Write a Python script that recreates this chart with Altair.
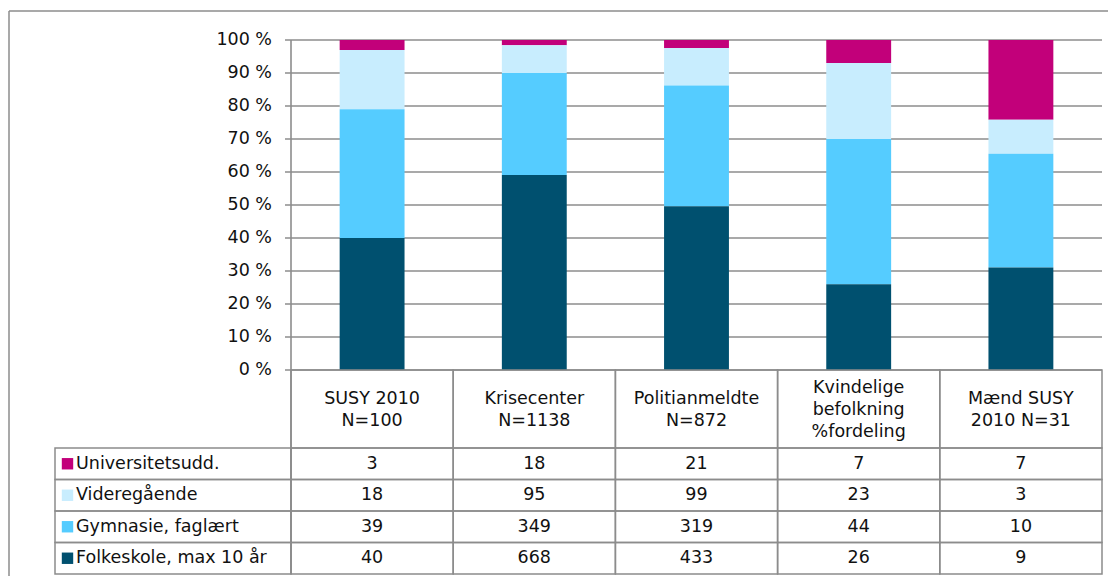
import altair as alt
import pandas as pd

# ---- data ----
categories = ["SUSY 2010\nN=100", "Krisecenter\nN=1138", "Politianmeldte\nN=872",
              "Kvindelige\nbefolkning\n%fordeling", "Mænd SUSY\n2010 N=31"]
series = ["Universitetsudd.", "Videregående", "Gymnasie, faglært", "Folkeskole, max 10 år"]
universitet = [3, 18, 21, 7, 7]
videregaaende = [18, 95, 99, 23, 3]
gymnasie = [39, 349, 319, 44, 10]
folkeskole = [40, 668, 433, 26, 9]
colors = ["#C2007A", "#C8EDFE", "#55CCFF", "#00506F"]
y_ticks = [0, 10, 20, 30, 40, 50, 60, 70, 80, 90, 100]

# ---- layout ----
W, H = 1100, 568
FONT = "DejaVu Sans"
FS = 17.5
GRAY = "#8c8c8c"
TXT = "#111111"
X0, X1 = 283, 1094          # plot / table data columns
Y_TOP, Y_ZERO = 32, 362     # 100 % and 0 %
Y_HEAD = 440                # bottom of header row
Y_BOT = 566                 # bottom of table
LEG_X = 47                  # left edge of legend column
LH = 22                     # header line height

rows = []
for s, vals in zip(series, [universitet, videregaaende, gymnasie, folkeskole]):
    for c, v in zip(categories, vals):
        rows.append({"cat": c, "series": s, "value": v,
                     "order": len(series) - 1 - series.index(s)})
df = pd.DataFrame(rows)
ticks_df = pd.DataFrame({"frac": [t / 100 for t in y_ticks],
                         "label": [f"{t} %" for t in y_ticks]})
cat_df = pd.DataFrame({"cat": categories,
                       "nlines": [c.count("\n") + 1 for c in categories]})
ser_df = pd.DataFrame({"series": series})
one = pd.DataFrame({"a": [0]})

xscale = alt.Scale(domain=categories, range=[X0, X1], paddingInner=0, paddingOuter=0)
yscale = alt.Scale(domain=[0, 1], range=[Y_ZERO, Y_TOP])
rscale = alt.Scale(domain=series, range=[Y_HEAD, Y_BOT], paddingInner=0, paddingOuter=0)
cscale = alt.Scale(domain=series, range=colors)

X = alt.X("cat:N", scale=xscale, axis=None)

frame = alt.Chart(one).mark_rule(color=GRAY, strokeWidth=1.5).encode(
    x=alt.value(1), x2=alt.value(W), y=alt.value(3))
frame_l = alt.Chart(one).mark_rule(color=GRAY, strokeWidth=1.5).encode(
    x=alt.value(1), y=alt.value(3), y2=alt.value(H))

grid = alt.Chart(ticks_df).mark_rule(color=GRAY, strokeWidth=1.6).encode(
    x=alt.value(X0 - 6), x2=alt.value(X1),
    y=alt.Y("frac:Q", scale=yscale, axis=None))

ylabels = alt.Chart(ticks_df).mark_text(align="right", baseline="middle",
                                         font=FONT, fontSize=FS, color=TXT).encode(
    x=alt.value(X0 - 19),
    y=alt.Y("frac:Q", scale=yscale, axis=None),
    text="label:N")

bars = alt.Chart(df).mark_bar(width={"band": 0.4}).encode(
    x=X,
    y=alt.Y("value:Q", stack="normalize", scale=yscale, axis=None),
    color=alt.Color("series:N", scale=cscale, legend=None),
    order=alt.Order("order:Q"))

axis_line = alt.Chart(one).mark_rule(color=GRAY, strokeWidth=1.6).encode(
    x=alt.value(X0), y=alt.value(Y_TOP), y2=alt.value(Y_BOT))

head_cells = alt.Chart(cat_df).mark_rect(fill=None, stroke=GRAY, strokeWidth=1.5).encode(
    x=X, y=alt.value(Y_ZERO), y2=alt.value(Y_HEAD))

HC = (Y_ZERO + Y_HEAD) / 2 + 1


def head_text(n):
    return alt.Chart(cat_df).transform_filter(alt.datum.nlines == n).mark_text(
        align="center", baseline="middle", lineBreak="\n", lineHeight=LH,
        font=FONT, fontSize=FS, color=TXT).encode(
        x=X, y=alt.value(HC - (n - 1) * LH / 2), text="cat:N")


R = alt.Y("series:N", scale=rscale, axis=None)
data_cells = alt.Chart(df).mark_rect(fill=None, stroke=GRAY, strokeWidth=1.5).encode(
    x=X, y=R)
leg_cells = alt.Chart(ser_df).mark_rect(fill=None, stroke=GRAY, strokeWidth=1.5).encode(
    x=alt.value(LEG_X), x2=alt.value(X0), y=R)
swatch = alt.Chart(ser_df).mark_square(size=130, opacity=1).encode(
    x=alt.value(LEG_X + 12.5), y=R,
    color=alt.Color("series:N", scale=cscale, legend=None))
leg_text = alt.Chart(ser_df).mark_text(align="left", baseline="middle", font=FONT,
                                        fontSize=FS, color=TXT).encode(
    x=alt.value(LEG_X + 21), y=R, text="series:N")
val_text = alt.Chart(df).mark_text(align="center", baseline="middle", font=FONT,
                                    fontSize=FS, color=TXT).encode(
    x=X, y=R, text="value:Q")

chart = alt.layer(frame, frame_l, grid, ylabels, bars, axis_line, head_cells,
                  head_text(2), head_text(3),
                  data_cells, leg_cells, swatch, leg_text, val_text).resolve_scale(
    y="independent").properties(
    width=W, height=H, autosize=alt.AutoSizeParams(type="none"), padding=0
).configure_view(stroke=None)

chart.save("out.html", embed_options={"renderer": "svg", "actions": False})
